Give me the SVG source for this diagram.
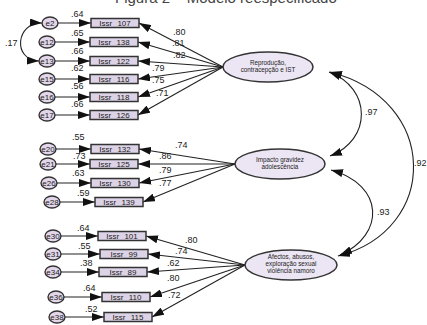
<svg xmlns="http://www.w3.org/2000/svg" width="427" height="325" viewBox="0 0 427 325">
<style>
text{font-family:"Liberation Sans",Arial,sans-serif;fill:#222}
.lbl{font-size:9px}
.obs rect{fill:#ddd3e6;stroke:#333;stroke-width:1.5}
.obs text{font-size:8px;text-anchor:middle;word-spacing:3px}
.err ellipse{fill:#e3d6ea;stroke:#333;stroke-width:1.4}
.err text{font-size:8px;text-anchor:middle}
.lat ellipse{fill:#ece6f4;stroke:#333;stroke-width:1.5}
.lat text{font-size:6.3px;text-anchor:middle}
.conn line,.conn path{stroke:#222;stroke-width:1.1;fill:none;marker-end:url(#ah)}
.conn .cov{marker-start:url(#ah)}
</style>
<defs>
<marker id="ah" markerUnits="userSpaceOnUse" markerWidth="12" markerHeight="8" refX="12" refY="4" orient="auto-start-reverse"><path d="M0,0 L12,4 L0,8 z" fill="#111"/></marker>
</defs>
<text x="115" y="3" style="font-size:15px;fill:#444">Figura 2 – Modelo reespecificado</text>

<g class="conn" id="connectors">
<!-- errors to indicators, group 1 -->
<line x1="58" y1="23" x2="91" y2="23"/>
<line x1="55" y1="42" x2="90" y2="42"/>
<line x1="55" y1="61" x2="90" y2="61"/>
<line x1="55" y1="79" x2="90" y2="79"/>
<line x1="55" y1="97" x2="90" y2="97"/>
<line x1="55" y1="115" x2="90" y2="115"/>
<!-- group 2 -->
<line x1="56" y1="149" x2="91" y2="149"/>
<line x1="56" y1="164" x2="90" y2="164"/>
<line x1="57" y1="183" x2="91" y2="183"/>
<line x1="60" y1="202" x2="95" y2="202"/>
<!-- group 3 -->
<line x1="61" y1="236" x2="98" y2="236"/>
<line x1="61" y1="254" x2="100" y2="254"/>
<line x1="61" y1="272" x2="99" y2="272"/>
<line x1="64" y1="297" x2="102" y2="297"/>
<line x1="65" y1="317" x2="104" y2="317"/>
<!-- loadings F1 -->
<line x1="223" y1="67" x2="139" y2="23"/>
<line x1="223" y1="67" x2="138" y2="42"/>
<line x1="223" y1="67" x2="138" y2="61"/>
<line x1="223" y1="67" x2="138" y2="79"/>
<line x1="223" y1="67" x2="138" y2="97"/>
<line x1="223" y1="67" x2="138" y2="115"/>
<!-- loadings F2 -->
<line x1="235" y1="164" x2="139" y2="149"/>
<line x1="235" y1="164" x2="138" y2="164"/>
<line x1="235" y1="164" x2="139" y2="183"/>
<line x1="235" y1="164" x2="143" y2="202"/>
<!-- loadings F3 -->
<line x1="245" y1="265" x2="146" y2="236"/>
<line x1="245" y1="265" x2="148" y2="254"/>
<line x1="245" y1="265" x2="147" y2="272"/>
<line x1="245" y1="265" x2="150" y2="297"/>
<line x1="245" y1="265" x2="152" y2="317"/>
<!-- covariances -->
<path class="cov" d="M42,23 C16,22 12,60 39,61"/>
<path class="cov" d="M329,72 C372,88 372,140 330,156"/>
<path class="cov" d="M330,72 C440,100 440,230 338,256"/>
<path class="cov" d="M331,170 C385,185 385,235 340,255"/>
</g>

<g id="labels">
<text class="lbl" x="5" y="46">.17</text>
<text class="lbl" x="71" y="17">.64</text>
<text class="lbl" x="71" y="36">.65</text>
<text class="lbl" x="71" y="54">.66</text>
<text class="lbl" x="71" y="71">.62</text>
<text class="lbl" x="71" y="89">.56</text>
<text class="lbl" x="71" y="107">.66</text>
<text class="lbl" x="173" y="35">.80</text>
<text class="lbl" x="172" y="46">.81</text>
<text class="lbl" x="173" y="58">.82</text>
<text class="lbl" x="152" y="71">.79</text>
<text class="lbl" x="152" y="83">.75</text>
<text class="lbl" x="156" y="96">.71</text>
<text class="lbl" x="72" y="140">.55</text>
<text class="lbl" x="73" y="159">.73</text>
<text class="lbl" x="72" y="176">.63</text>
<text class="lbl" x="77" y="196">.59</text>
<text class="lbl" x="175" y="148">.74</text>
<text class="lbl" x="159" y="159">.86</text>
<text class="lbl" x="159" y="173">.79</text>
<text class="lbl" x="159" y="186">.77</text>
<text class="lbl" x="77" y="231">.64</text>
<text class="lbl" x="78" y="249">.55</text>
<text class="lbl" x="80" y="266">.38</text>
<text class="lbl" x="83" y="291">.64</text>
<text class="lbl" x="85" y="312">.52</text>
<text class="lbl" x="185" y="243">.80</text>
<text class="lbl" x="175" y="254">.74</text>
<text class="lbl" x="167" y="266">.62</text>
<text class="lbl" x="167" y="281">.80</text>
<text class="lbl" x="168" y="298">.72</text>
<text class="lbl" x="365" y="115">.97</text>
<text class="lbl" x="414" y="166">.92</text>
<text class="lbl" x="377" y="215">.93</text>
</g>

<g id="e2" class="err"><ellipse cx="50" cy="23" rx="8" ry="6"/><text x="50" y="26">e2</text></g>
<g id="e12" class="err"><ellipse cx="47" cy="42" rx="8" ry="6"/><text x="47" y="45">e12</text></g>
<g id="e13" class="err"><ellipse cx="47" cy="61" rx="8" ry="6"/><text x="47" y="64">e13</text></g>
<g id="e15" class="err"><ellipse cx="47" cy="79" rx="8" ry="6"/><text x="47" y="82">e15</text></g>
<g id="e16" class="err"><ellipse cx="47" cy="97" rx="8" ry="6"/><text x="47" y="100">e16</text></g>
<g id="e17" class="err"><ellipse cx="47" cy="115" rx="8" ry="6"/><text x="47" y="118">e17</text></g>
<g id="e20" class="err"><ellipse cx="48" cy="149" rx="8" ry="6"/><text x="48" y="152">e20</text></g>
<g id="e21" class="err"><ellipse cx="48" cy="164" rx="8" ry="6"/><text x="48" y="167">e21</text></g>
<g id="e26" class="err"><ellipse cx="49" cy="183" rx="8" ry="6"/><text x="49" y="186">e26</text></g>
<g id="e28" class="err"><ellipse cx="52" cy="202" rx="8" ry="6"/><text x="52" y="205">e28</text></g>
<g id="e30" class="err"><ellipse cx="53" cy="236" rx="8" ry="6"/><text x="53" y="239">e30</text></g>
<g id="e31" class="err"><ellipse cx="53" cy="254" rx="8" ry="6"/><text x="53" y="257">e31</text></g>
<g id="e34" class="err"><ellipse cx="53" cy="272" rx="8" ry="6"/><text x="53" y="275">e34</text></g>
<g id="e36" class="err"><ellipse cx="56" cy="297" rx="8" ry="6"/><text x="56" y="300">e36</text></g>
<g id="e38" class="err"><ellipse cx="57" cy="317" rx="8" ry="6"/><text x="57" y="320">e38</text></g>

<g id="issr107" class="obs"><rect x="91" y="18.5" width="48" height="9"/><text x="115" y="26">Issr 107</text></g>
<g id="issr138" class="obs"><rect x="90" y="37.5" width="48" height="9"/><text x="114" y="45">Issr 138</text></g>
<g id="issr122" class="obs"><rect x="90" y="56.5" width="48" height="9"/><text x="114" y="64">Issr 122</text></g>
<g id="issr116" class="obs"><rect x="90" y="74.5" width="48" height="9"/><text x="114" y="82">Issr 116</text></g>
<g id="issr118" class="obs"><rect x="90" y="92.5" width="48" height="9"/><text x="114" y="100">Issr 118</text></g>
<g id="issr126" class="obs"><rect x="90" y="110.5" width="48" height="9"/><text x="114" y="118">Issr 126</text></g>
<g id="issr132" class="obs"><rect x="91" y="144.5" width="48" height="9"/><text x="115" y="152">Issr 132</text></g>
<g id="issr125" class="obs"><rect x="90" y="159.5" width="48" height="9"/><text x="114" y="167">Issr 125</text></g>
<g id="issr130" class="obs"><rect x="91" y="178.5" width="48" height="9"/><text x="115" y="186">Issr 130</text></g>
<g id="issr139" class="obs"><rect x="95" y="197.5" width="48" height="9"/><text x="119" y="205">Issr 139</text></g>
<g id="issr101" class="obs"><rect x="98" y="231.5" width="48" height="9"/><text x="122" y="239">Issr 101</text></g>
<g id="issr99" class="obs"><rect x="100" y="249.5" width="48" height="9"/><text x="124" y="257">Issr 99</text></g>
<g id="issr89" class="obs"><rect x="99" y="267.5" width="48" height="9"/><text x="123" y="275">Issr 89</text></g>
<g id="issr110" class="obs"><rect x="102" y="292.5" width="48" height="9"/><text x="126" y="300">Issr 110</text></g>
<g id="issr115" class="obs"><rect x="104" y="312.5" width="48" height="9"/><text x="128" y="320">Issr 115</text></g>

<g id="f1" class="lat"><ellipse cx="268" cy="67" rx="45" ry="15"/><text x="268" y="65">Reprodução,</text><text x="268" y="72">contracepção e IST</text></g>
<g id="f2" class="lat"><ellipse cx="280" cy="164" rx="45" ry="15"/><text x="280" y="162">Impacto gravidez</text><text x="280" y="169">adolescência</text></g>
<g id="f3" class="lat"><ellipse cx="291" cy="265" rx="46" ry="15"/><text x="291" y="259">Afectos, abusos,</text><text x="291" y="266">exploração sexual</text><text x="291" y="273">violência namoro</text></g>
</svg>
